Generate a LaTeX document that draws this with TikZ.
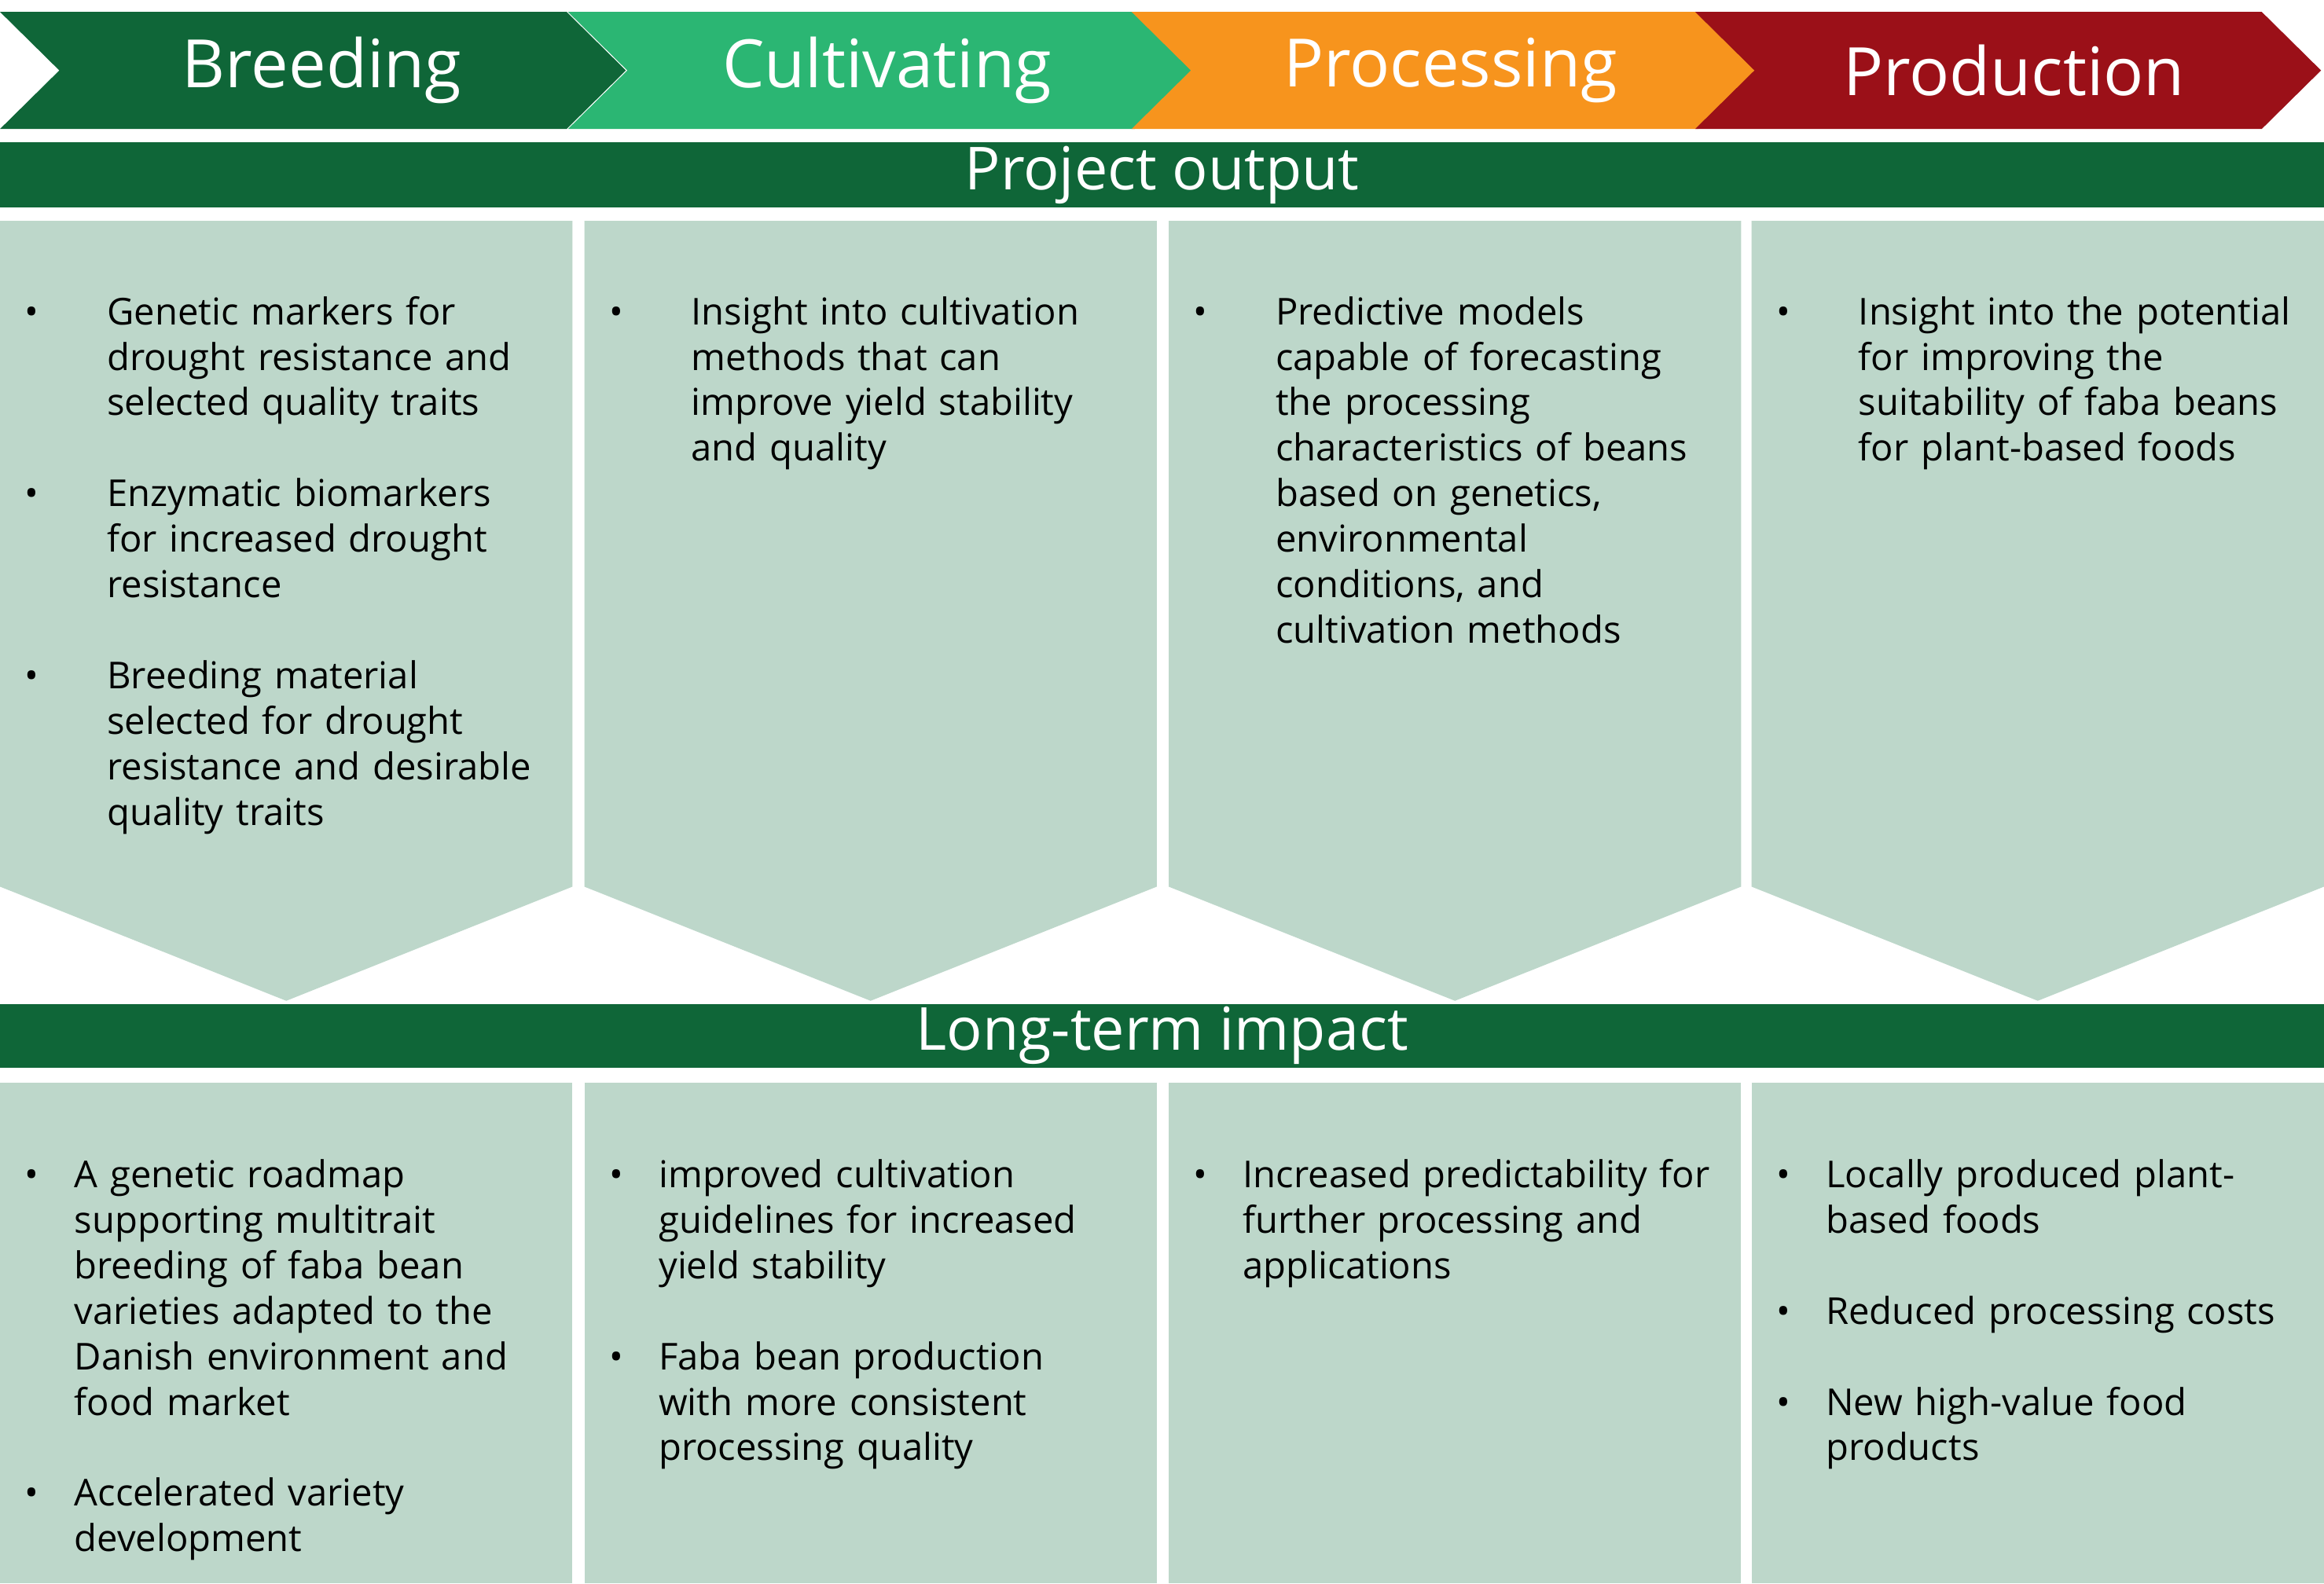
\documentclass[tikz,border=0pt]{standalone}
\usepackage{fontspec}
\setmainfont{Open Sans}
\usepackage{enumitem}
\definecolor{darkgreen}{HTML}{0F6638}
\definecolor{midgreen}{HTML}{2BB673}
\definecolor{procorange}{HTML}{F7941D}
\definecolor{prodred}{HTML}{9B1018}
\definecolor{pale}{HTML}{BDD7CA}
\newcommand{\chev}[2]{(#1,8) -- ++(382,0) -- ++(40,39.5) -- ++(-40,39.5) -- ++(-382,0) -- ++(40,-39.5) -- cycle}
\newcommand{\arrowbox}[1]{(#1,149) -- ++(386,0) -- ++(0,449) -- ++(-193,77) -- ++(-193,-77) -- cycle}
\newlist{toplist}{itemize}{1}
\setlist[toplist]{label=\textbullet,leftmargin=72pt,labelsep=46pt,itemsep=30.7pt,topsep=0pt,parsep=0pt}
\newlist{botlist}{itemize}{1}
\setlist[botlist]{label=\textbullet,leftmargin=50pt,labelsep=24pt,itemsep=30.7pt,topsep=0pt,parsep=0pt}
\begin{document}
\begin{tikzpicture}[x=1pt,y=-1pt,
  head/.style={text=white,font=\fontsize{45}{50}\selectfont},
  bar/.style={fill=darkgreen,draw=none},
  body/.style={anchor=north west,inner sep=0,text width=386pt,align=left,font=\fontsize{25}{30.7}\selectfont}]
\useasboundingbox (0,0) rectangle (1567,1068);

% stages
\fill[darkgreen] \chev{0}{};
\fill[midgreen] \chev{383}{};
\fill[procorange] \chev{763}{};
\fill[prodred] \chev{1143}{};
\node[head] (breeding) at (217,47.5) {Breeding};
\node[head] (cultivating) at (598,47.5) {Cultivating};
\node[head] (processing) at (978,47.5) {Processing};
\node[head] (production) at (1358,47.5) {Production};

% project output
\fill[bar] (0,96) rectangle (1567,140);
\node[head,font=\fontsize{40}{44}\selectfont] (output) at (783.5,118) {Project output};
\foreach \x in {0,394,788,1181}
  \fill[pale] \arrowbox{\x};

\node[body] (out1) at (0,188) {\begin{toplist}
  \item Genetic markers for\newline drought resistance and\newline selected quality traits
  \item Enzymatic biomarkers\newline for increased drought\newline resistance
  \item Breeding material\newline selected for drought\newline resistance and desirable\newline quality traits
\end{toplist}};
\node[body] (out2) at (394,188) {\begin{toplist}
  \item Insight into cultivation\newline methods that can\newline improve yield stability\newline and quality
\end{toplist}};
\node[body] (out3) at (788,188) {\begin{toplist}
  \item Predictive models\newline capable of forecasting\newline the processing\newline characteristics of beans\newline based on genetics,\newline environmental\newline conditions, and\newline cultivation methods
\end{toplist}};
\node[body] (out4) at (1181,188) {\begin{toplist}
  \item Insight into the potential\newline for improving the\newline suitability of faba beans\newline for plant-based foods
\end{toplist}};

% long-term impact
\fill[bar] (0,677) rectangle (1567,720);
\node[head,font=\fontsize{40}{44}\selectfont] (impact) at (783.5,698.5) {Long-term impact};
\foreach \x in {0,394,788,1181}
  \fill[pale] (\x,730) rectangle ++(386,338);

\node[body] (imp1) at (0,770) {\begin{botlist}
  \item A genetic roadmap\newline supporting multitrait\newline breeding of faba bean\newline varieties adapted to the\newline Danish environment and\newline food market
  \item Accelerated variety\newline development
\end{botlist}};
\node[body] (imp2) at (394,770) {\begin{botlist}
  \item improved cultivation\newline guidelines for increased\newline yield stability
  \item Faba bean production\newline with more consistent\newline processing quality
\end{botlist}};
\node[body] (imp3) at (788,770) {\begin{botlist}
  \item Increased predictability for\newline further processing and\newline applications
\end{botlist}};
\node[body] (imp4) at (1181,770) {\begin{botlist}
  \item Locally produced plant-\newline based foods
  \item Reduced processing costs
  \item New high-value food\newline products
\end{botlist}};
\end{tikzpicture}
\end{document}
